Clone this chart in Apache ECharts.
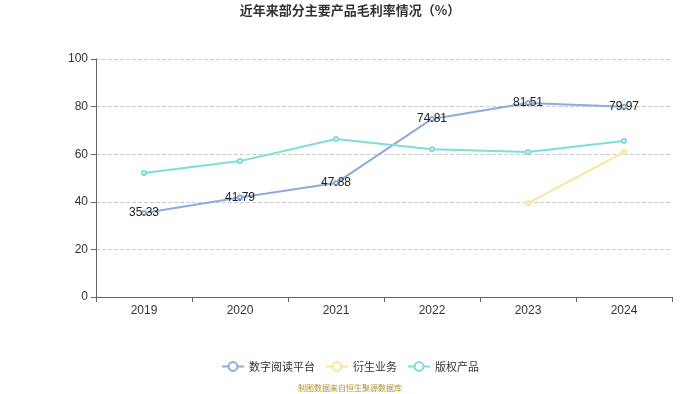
<!DOCTYPE html>
<html><head><meta charset="utf-8">
<script src="https://cdn.jsdelivr.net/npm/echarts@6/dist/echarts.min.js"></script>
<style>html,body{margin:0;padding:0;background:#fff}#c{width:700px;height:394px}</style>
</head><body><div id="c"></div>
<script>
var categories = ['2019','2020','2021','2022','2023','2024'];
var digitalReading = [35.33, 41.79, 47.88, 74.81, 81.51, 79.97];
var derivative = [null, null, null, null, 39.4, 60.9];
var copyright = [52.1, 57.1, 66.4, 62.1, 60.9, 65.5];
var seriesNames = ['数字阅读平台', '衍生业务', '版权产品'];

var chart = echarts.init(document.getElementById('c'));
chart.setOption({
  backgroundColor: '#fff',
  title: {text: '近年来部分主要产品毛利率情况（%）', left: 'center', top: -1,
    textStyle: {fontSize: 13, fontWeight: 'bold', color: '#333', fontFamily: 'Noto Sans CJK SC'}},
  legend: {bottom: 17, itemWidth: 22, itemHeight: 11, itemGap: 10,
    textStyle: {fontSize: 11, color: '#333', fontFamily: 'Noto Sans CJK SC'},
    data: seriesNames},
  graphic: [{type: 'text', left: 'center', bottom: 2,
    style: {text: '制图数据来自恒生聚源数据库', fill: '#b8902b', fontSize: 8, fontFamily: 'Noto Sans CJK SC'}}],
  grid: {left: 96, right: 28, top: 59, bottom: 97},
  xAxis: {type: 'category', data: categories, boundaryGap: true,
    axisLine: {lineStyle: {color: '#666', width: 1}},
    axisTick: {show: true, lineStyle: {color: '#666'}},
    axisLabel: {color: '#333', fontSize: 12, margin: 8}},
  yAxis: {type: 'value', min: 0, max: 100, interval: 20,
    axisLine: {show: true, lineStyle: {color: '#666'}},
    axisTick: {show: true, lineStyle: {color: '#666'}},
    axisLabel: {color: '#333', fontSize: 12},
    splitLine: {lineStyle: {type: 'dashed', color: '#ccc'}}},
  series: [
    {name: seriesNames[0], type: 'line', data: digitalReading, symbol: 'emptyCircle', symbolSize: 4,
      itemStyle: {color: '#8eabdf', borderWidth: 1}, lineStyle: {width: 2},
      label: {show: true, position: 'inside', color: '#222', fontSize: 12}},
    {name: seriesNames[1], type: 'line', data: derivative, symbol: 'emptyCircle', symbolSize: 4,
      itemStyle: {color: '#fde49b', borderWidth: 1}, lineStyle: {width: 2}},
    {name: seriesNames[2], type: 'line', data: copyright, symbol: 'emptyCircle', symbolSize: 4,
      itemStyle: {color: '#7edcd9', borderWidth: 1}, lineStyle: {width: 2}}
  ]
});
</script></body></html>
